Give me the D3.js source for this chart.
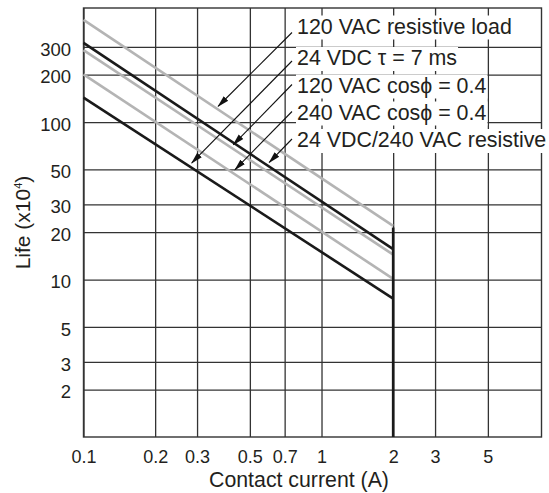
<!DOCTYPE html>
<html>
<head>
<meta charset="utf-8">
<script src="https://cdn.jsdelivr.net/npm/d3@7"></script>
<style>
  body { margin: 0; background: #fff; }
  text { font-family: "Liberation Sans", Arial, sans-serif; fill: #231f20; }
</style>
</head>
<body>
<svg width="549" height="493"></svg>
<script>
// contact current (A) at both ends of each life line
const currents = [0.1, 2];
// life (x10^4) at those currents
const life120Res = [445, 21.9];
const life120Cos = [318, 15.6];
const life24240Res = [286, 14.4];
const life240Cos = [201, 10.1];
const life24Tau = [143, 7.57];

const xTicks = [0.1, 0.2, 0.3, 0.5, 0.7, 1, 2, 3, 5];
const yTicks = [2, 3, 5, 10, 20, 30, 50, 100, 200, 300];

// rated current limit (vertical line)
const limitCurrent = 2;
const limitLife = [21.4, 1];

const labels = [
  "120 VAC resistive load",
  "24 VDC \u03c4 = 7 ms",
  "120 VAC cos\u03d5 = 0.4",
  "240 VAC cos\u03d5 = 0.4",
  "24 VDC/240 VAC resistive"
];
// where each label's arrow points, in chart units
const tipCurrent = [0.368, 0.285, 0.426, 0.433, 0.603];
const tipLife = [126, 55, 71.8, 49.8, 55.4];

const svg = d3.select("svg");
const plotLeft = 83.5, plotRight = 541.5, plotTop = 8, plotBottom = 437;

const x = d3.scaleLog().domain([0.1, 8.4]).range([plotLeft, plotRight]);
const y = d3.scaleLog().domain([1, 530]).range([plotBottom, plotTop]);

const gridColor = "#333";

// grid through the axes
const gx = svg.append("g")
  .attr("transform", "translate(0," + plotBottom + ")")
  .call(d3.axisBottom(x)
    .tickValues(xTicks)
    .tickFormat(d => String(d))
    .tickSize(-(plotBottom - plotTop))
    .tickPadding(13.5));
gx.select(".domain").remove();
gx.selectAll("line").attr("stroke", gridColor).attr("stroke-width", 1.3);
gx.selectAll("text").attr("font-size", 18).attr("font-family", "Liberation Sans, Arial, sans-serif").attr("fill", "#231f20");

const gy = svg.append("g")
  .attr("transform", "translate(" + plotLeft + ",0)")
  .call(d3.axisLeft(y)
    .tickValues(yTicks)
    .tickFormat(d3.format("d"))
    .tickSize(-(plotRight - plotLeft))
    .tickPadding(12.5));
gy.select(".domain").remove();
gy.selectAll("line").attr("stroke", gridColor).attr("stroke-width", 1.3);
gy.selectAll("text").attr("font-size", 18.5).attr("dy", "0.45em")
  .attr("font-family", "Liberation Sans, Arial, sans-serif").attr("fill", "#231f20");

svg.append("rect")
  .attr("x", plotLeft).attr("y", plotTop)
  .attr("width", plotRight - plotLeft).attr("height", plotBottom - plotTop)
  .attr("fill", "none").attr("stroke", gridColor).attr("stroke-width", 1.4);

// life lines
const series = [
  { values: life120Res, color: "#b4b4b4" },
  { values: life120Cos, color: "#1a1a1a" },
  { values: life24240Res, color: "#b4b4b4" },
  { values: life240Cos, color: "#b4b4b4" },
  { values: life24Tau, color: "#1a1a1a" }
];

const line = d3.line()
  .x((d, i) => x(currents[i]))
  .y(d => y(d));

svg.selectAll(".life")
  .data(series)
  .enter()
  .append("path")
  .classed("life", true)
  .attr("d", d => line(d.values))
  .attr("fill", "none")
  .attr("stroke", d => d.color)
  .attr("stroke-width", 2.6);

svg.append("line")
  .attr("x1", x(limitCurrent)).attr("x2", x(limitCurrent))
  .attr("y1", y(limitLife[0])).attr("y2", y(limitLife[1]))
  .attr("stroke", "#1a1a1a")
  .attr("stroke-width", 2.6);

// labels with white boxes, arrows
const labelX = 297;
const baselines = [33.5, 65, 92.5, 119.5, 147];
const startDy = [1, 4, 8, 8, 8];

svg.append("defs").append("marker")
  .attr("id", "head")
  .attr("markerUnits", "userSpaceOnUse")
  .attr("markerWidth", 12).attr("markerHeight", 8)
  .attr("viewBox", "0 -4 12 8")
  .attr("refX", 11).attr("refY", 0)
  .attr("orient", "auto")
  .append("path")
  .attr("d", "M0,-3.2L12,0L0,3.2Z")
  .attr("fill", "#111");

const lab = svg.selectAll(".lab")
  .data(labels)
  .enter()
  .append("g")
  .classed("lab", true);

lab.append("rect").attr("fill", "#fff");
lab.append("text")
  .attr("x", labelX)
  .attr("y", (d, i) => baselines[i])
  .attr("font-size", 21.4)
  .text(d => d);

lab.each(function () {
  const g = d3.select(this);
  const b = g.select("text").node().getBBox();
  g.select("rect")
    .attr("x", b.x - 1).attr("y", b.y + 1)
    .attr("width", b.width + 2).attr("height", b.height);
});

svg.selectAll(".arrow")
  .data(labels)
  .enter()
  .append("line")
  .classed("arrow", true)
  .attr("x1", labelX - 5)
  .attr("y1", (d, i) => baselines[i] - startDy[i])
  .attr("x2", (d, i) => x(tipCurrent[i]))
  .attr("y2", (d, i) => y(tipLife[i]))
  .attr("stroke", "#111")
  .attr("stroke-width", 1.1)
  .attr("marker-end", "url(#head)");

// axis titles
svg.append("text")
  .attr("x", 299)
  .attr("y", 487)
  .attr("text-anchor", "middle")
  .attr("font-size", 21.3)
  .text("Contact current (A)");

const yt = svg.append("text")
  .attr("transform", "translate(30," + ((plotTop + plotBottom) / 2) + ") rotate(-90)")
  .attr("text-anchor", "middle")
  .attr("font-size", 21);
yt.append("tspan").text("Life (x10");
yt.append("tspan").attr("font-size", 11).attr("dy", -8).text("4");
yt.append("tspan").attr("dy", 8).text(")");
</script>
</body>
</html>
